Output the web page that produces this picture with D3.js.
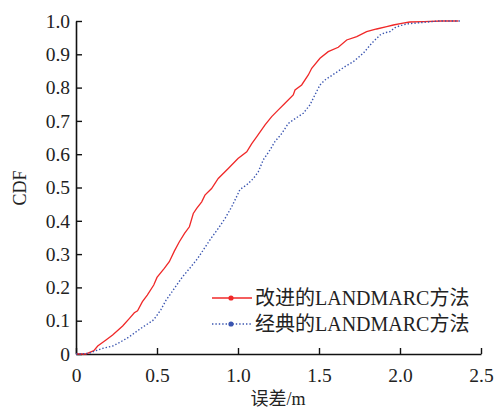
<!DOCTYPE html>
<html><head><meta charset="utf-8">
<script src="https://cdn.jsdelivr.net/npm/d3@7"></script>
<style>body{margin:0;background:#fff}svg{display:block}</style>
</head><body>
<script>
const seriesNames = ["改进的LANDMARC方法", "经典的LANDMARC方法"];
const improvedX = [0,0.06,0.11,0.134,0.185,0.226,0.288,0.33,0.36,0.38,0.41,0.44,0.48,0.50,0.545,0.576,0.607,0.638,0.67,0.70,0.724,0.745,0.776,0.796,0.837,0.878,0.94,1.0,1.054,1.085,1.115,1.167,1.208,1.249,1.29,1.341,1.352,1.393,1.434,1.455,1.506,1.557,1.619,1.671,1.733,1.794,1.856,1.918,1.959,2.01,2.06,2.15,2.257,2.36];
const improvedY = [0,0,0.01,0.024,0.042,0.057,0.084,0.107,0.124,0.13,0.157,0.177,0.207,0.23,0.257,0.277,0.309,0.337,0.362,0.382,0.422,0.437,0.457,0.477,0.497,0.527,0.557,0.587,0.607,0.632,0.652,0.688,0.713,0.733,0.753,0.778,0.793,0.808,0.838,0.858,0.888,0.908,0.921,0.943,0.953,0.968,0.976,0.983,0.988,0.993,0.997,0.998,1.0,1.0];
const classicX = [0,0.082,0.123,0.165,0.226,0.267,0.33,0.38,0.422,0.473,0.494,0.525,0.556,0.586,0.617,0.658,0.71,0.751,0.792,0.833,0.878,0.92,0.961,0.981,0.996,1.012,1.054,1.095,1.125,1.156,1.198,1.228,1.27,1.31,1.341,1.403,1.444,1.475,1.506,1.537,1.599,1.66,1.712,1.773,1.825,1.877,1.907,1.938,1.969,2.0,2.041,2.082,2.123,2.237,2.37];
const classicY = [0,0.002,0.01,0.017,0.024,0.034,0.052,0.07,0.084,0.1,0.112,0.134,0.162,0.182,0.204,0.232,0.262,0.287,0.317,0.347,0.377,0.407,0.442,0.462,0.477,0.494,0.508,0.527,0.547,0.583,0.613,0.638,0.662,0.692,0.703,0.723,0.748,0.778,0.808,0.823,0.843,0.863,0.878,0.903,0.933,0.958,0.965,0.968,0.98,0.986,0.991,0.993,0.995,1.0,1.0];
const xTicks = [0,0.5,1.0,1.5,2.0,2.5];
const xTickLabels = ["0","0.5","1.0","1.5","2.0","2.5"];
const yTicks = [0,0.1,0.2,0.3,0.4,0.5,0.6,0.7,0.8,0.9,1.0];
const yTickLabels = ["0","0.1","0.2","0.3","0.4","0.5","0.6","0.7","0.8","0.9","1.0"];
const colors = ["#f02828", "#3a55b0"];

const W = 496, H = 411;
const font = "'Liberation Serif','Noto Sans CJK SC',serif";
const svg = d3.select("body").append("svg").attr("width", W).attr("height", H);
const x = d3.scaleLinear().domain([0, 2.5]).range([76, 481]);
const y = d3.scaleLinear().domain([0, 1]).range([354, 21]);

// axes
const xAxis = svg.append("g").attr("transform", "translate(0,354)")
  .call(d3.axisBottom(x).tickValues(xTicks).tickFormat((d,i)=>xTickLabels[i]).tickSizeInner(-6).tickSizeOuter(0).tickPadding(14));
const yAxis = svg.append("g").attr("transform", "translate(76,0)")
  .call(d3.axisLeft(y).tickValues(yTicks).tickFormat((d,i)=>yTickLabels[i]).tickSizeInner(-6).tickSizeOuter(0).tickPadding(6));
[xAxis, yAxis].forEach(g => {
  g.select(".domain").attr("stroke", "#111").attr("stroke-width", 1.6);
  g.selectAll(".tick line").attr("stroke", "#111").attr("stroke-width", 1.4);
  g.selectAll(".tick text").attr("fill", "#222").style("font-family", font).style("font-size", "19.5px");
});

// curves
const line = d3.line().x(d => x(d[0])).y(d => y(d[1]));
const classic = classicX.map((v,i)=>[v, classicY[i]]);
const improved = improvedX.map((v,i)=>[v, improvedY[i]]);
svg.append("path").datum(improved).attr("d", line).attr("fill","none")
  .attr("stroke", colors[0]).attr("stroke-width", 1.3);
svg.append("path").datum(classic).attr("d", line).attr("fill","none")
  .attr("stroke", colors[1]).attr("stroke-width", 1.4).attr("stroke-dasharray", "1.4,2");

// labels
svg.append("text").attr("x", 278).attr("y", 405).attr("text-anchor","middle")
  .attr("fill","#222").style("font-family", font).style("font-size","18px").text("误差/m");
svg.append("text").attr("transform","translate(26,188) rotate(-90)").attr("text-anchor","middle")
  .attr("fill","#222").style("font-family", font).style("font-size","18px").text("CDF");

// legend
const legY = [298, 324];
seriesNames.forEach((name, i) => {
  const g = svg.append("g");
  g.append("line").attr("x1", 212).attr("x2", 252).attr("y1", legY[i]).attr("y2", legY[i])
    .attr("stroke", colors[i]).attr("stroke-width", 1.4)
    .attr("stroke-dasharray", i === 1 ? "1.4,2" : null);
  g.append("circle").attr("cx", 231).attr("cy", legY[i]).attr("r", 2.6).attr("fill", colors[i]);
  g.append("text").attr("x", 255).attr("y", legY[i] + 7).attr("fill","#222")
    .style("font-family", font).style("font-size","20px").text(name);
});
</script>
</body></html>
